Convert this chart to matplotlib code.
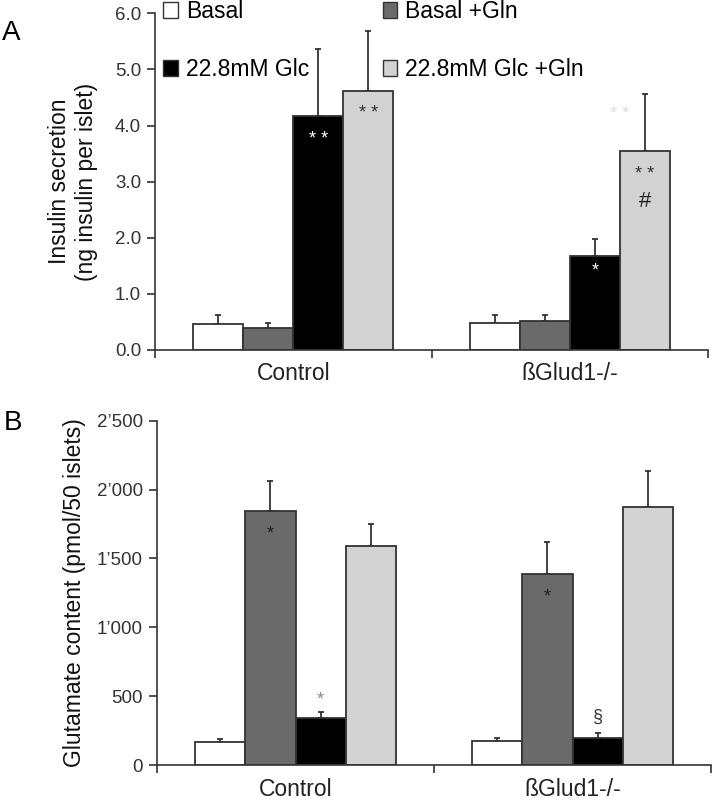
import matplotlib
matplotlib.use("Agg")
import matplotlib.pyplot as plt
import numpy as np
from matplotlib.patches import Patch

plt.rcParams['font.family'] = ['Liberation Sans', 'DejaVu Sans']

categories = ["Control", "ßGlud1-/-"]
series = ["Basal", "Basal +Gln", "22.8mM Glc", "22.8mM Glc +Gln"]
colors = ["#ffffff", "#6a6a6a", "#000000", "#d2d2d2"]

# Panel A: insulin secretion (ng insulin per islet)
ins_vals = {
    "Basal": [0.47, 0.49],
    "Basal +Gln": [0.40, 0.51],
    "22.8mM Glc": [4.17, 1.67],
    "22.8mM Glc +Gln": [4.61, 3.54],
}
ins_err = {
    "Basal": [0.16, 0.13],
    "Basal +Gln": [0.09, 0.11],
    "22.8mM Glc": [1.20, 0.31],
    "22.8mM Glc +Gln": [1.07, 1.03],
}
# Panel B: glutamate content (pmol/50 islets)
glu_vals = {
    "Basal": [169, 177],
    "Basal +Gln": [1845, 1385],
    "22.8mM Glc": [339, 199],
    "22.8mM Glc +Gln": [1593, 1876],
}
glu_err = {
    "Basal": [17, 17],
    "Basal +Gln": [215, 232],
    "22.8mM Glc": [48, 31],
    "22.8mM Glc +Gln": [160, 259],
}
ins_ticks = [0, 1, 2, 3, 4, 5, 6]
ins_ticklabels = ["0.0", "1.0", "2.0", "3.0", "4.0", "5.0", "6.0"]
glu_ticks = [0, 500, 1000, 1500, 2000, 2500]
glu_ticklabels = ["0", "500", "1’000", "1’500", "2’000", "2’500"]

# annotations: (panel, category index, series index, y, text, color, size)
annotations = [
    ("A", 0, 2, 3.76, "* *", "white", 13),
    ("A", 0, 3, 4.22, "* *", "#333333", 13),
    ("A", 1, 2.5, 4.20, "* *", "#dddddd", 13),
    ("A", 1, 3, 3.13, "* *", "#333333", 13),
    ("A", 1, 3, 2.65, "#", "#222222", 16),
    ("A", 1, 2, 1.40, "*", "white", 13),
    ("B", 0, 1, 1675, "*", "#222222", 13),
    ("B", 0, 2, 475, "*", "#888888", 13),
    ("B", 1, 1, 1217, "*", "#222222", 13),
    ("B", 1, 2, 349, "§", "#333333", 13),
]

W, H = 712, 802
fig = plt.figure(figsize=(W / 100, H / 100), dpi=100)
axA = fig.add_axes([155 / W, 1 - 350 / H, (708 - 155) / W, (350 - 13.3) / H])
axB = fig.add_axes([157 / W, 1 - 765 / H, (711 - 157) / W, (765 - 420.7) / H])

bw = 0.181
x = np.arange(len(categories))
tc = "#333333"

def draw(ax, vals, errs):
    for i, s in enumerate(series):
        off = (i - 1.5) * bw
        ax.bar(x + off, vals[s], bw, color=colors[i], edgecolor="#333333",
               linewidth=1.3, zorder=2)
        ax.errorbar(x + off, vals[s], yerr=[np.zeros(len(x)), errs[s]], fmt="none",
                    ecolor="#333333", elinewidth=1.3, capsize=2.5, capthick=1.3, zorder=1)
    ax.set_xlim(-0.5, 1.5)
    ax.set_xticks([-0.5, 0.5, 1.5])
    ax.set_xticklabels([])
    ax.set_xticks(x, minor=True)
    ax.set_xticklabels(categories, minor=True, fontsize=16.5, color="#222222")
    ax.tick_params(axis="x", which="minor", length=0, pad=9)
    ax.tick_params(axis="x", which="major", length=6, width=1.2, color="#333333", direction="out")
    ax.tick_params(axis="y", length=6, width=1.2, color="#333333", direction="out",
                   labelsize=13.5, labelcolor=tc, pad=4)
    for sp in ["top", "right"]:
        ax.spines[sp].set_visible(False)
    for sp in ["left", "bottom"]:
        ax.spines[sp].set_color("#333333")
        ax.spines[sp].set_linewidth(1.2)

draw(axA, ins_vals, ins_err)
draw(axB, glu_vals, glu_err)
axA.set_ylim(0, 6)
axA.set_yticks(ins_ticks)
axA.set_yticklabels(ins_ticklabels)
axB.set_ylim(0, 2500)
axB.set_yticks(glu_ticks)
axB.set_yticklabels(glu_ticklabels)

axA.set_ylabel("Insulin secretion\n(ng insulin per islet)", fontsize=16.5, color="#111111",
               linespacing=1.25, labelpad=12)
axB.set_ylabel("Glutamate content (pmol/50 islets)", fontsize=16.5, color="#111111", labelpad=8)

for panel, ci, si, y, t, c, fs in annotations:
    ax = axA if panel == "A" else axB
    xx = x[ci] + (si - 1.5) * bw
    ax.text(xx, y, t, ha="center", va="center", color=c, fontsize=fs, zorder=5)

order = [0, 2, 1, 3]
handles = [Patch(facecolor=colors[i], edgecolor="#333333", linewidth=1.0) for i in order]
labels = [series[i] for i in order]
axA.legend(handles, labels, loc="upper left", bbox_to_anchor=(8 / 553, 1.039), ncol=2,
           frameon=False, fontsize=16.5, handlelength=0.65, handleheight=0.65,
           handletextpad=0.35, labelspacing=1.52, columnspacing=3.2, borderaxespad=0,
           borderpad=0)

fig.text(2 / W, 1 - 33 / H, "A", fontsize=20, va="center", ha="left")
fig.text(4 / W, 1 - 423 / H, "B", fontsize=20, va="center", ha="left")

fig.savefig("out.png", dpi=100)
